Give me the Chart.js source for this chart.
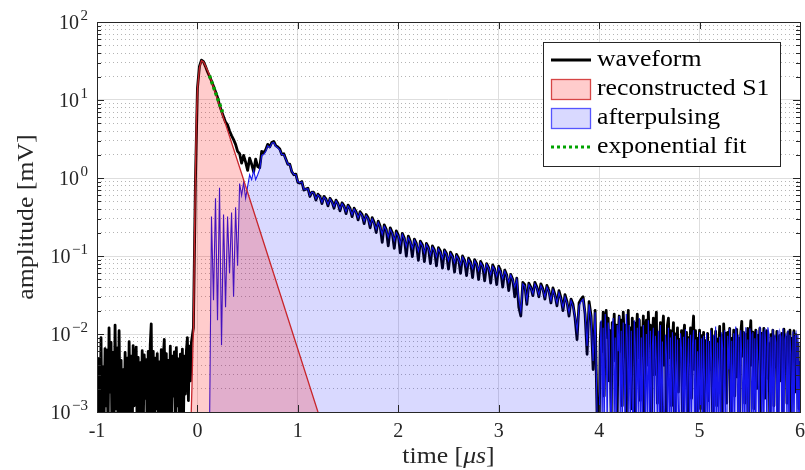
<!DOCTYPE html>
<html>
<head>
<meta charset="utf-8">
<script src="https://cdn.jsdelivr.net/npm/chart.js@4/dist/chart.umd.min.js"></script>
<style>
  html, body { margin: 0; padding: 0; background: #fff; }
  canvas { display: block; }
</style>
</head>
<body>
<canvas id="pulse" width="805" height="470"></canvas>
<script>
'use strict';

// waveform in mV. Baseline stretches are kept at 10 ns, the pulse itself at 20 ns.
const PRE_START = -1, PRE_STEP = 0.01;
const preTriggerAmp = [
  0.0026, 0.0006, 0.0048, 0.0009, 0.0090, 0.0005, 0.0038, 0.0007, 0.0065, 0.0012,  // -1.00
  0.0062, 0.0005, 0.0120, 0.0018, 0.0078, 0.0004, 0.0058, 0.0008, 0.0130, 0.0011,  // -0.90
  0.0066, 0.0005, 0.0110, 0.0009, 0.0046, 0.0004, 0.0035, 0.0007, 0.0058, 0.0006,  // -0.80
  0.0049, 0.0005, 0.0080, 0.0009, 0.0052, 0.0004, 0.0071, 0.0012, 0.0044, 0.0068,  // -0.70
  0.0006, 0.0050, 0.0004, 0.0043, 0.0008, 0.0061, 0.0005, 0.0054, 0.0015, 0.0047,  // -0.60
  0.0005, 0.0060, 0.0009, 0.0072, 0.0135, 0.0006, 0.0060, 0.0004, 0.0049, 0.0011,  // -0.50
  0.0056, 0.0005, 0.0044, 0.0008, 0.0063, 0.0004, 0.0050, 0.0085, 0.0009, 0.0056,  // -0.40
  0.0005, 0.0046, 0.0010, 0.0070, 0.0006, 0.0052, 0.0016, 0.0059, 0.0005, 0.0067,  // -0.30
  0.0012, 0.0048, 0.0004, 0.0055, 0.0009, 0.0064, 0.0006, 0.0052, 0.0017, 0.0061,  // -0.20
  0.0090, 0.0014, 0.0070, 0.0025, 0.0078                                            // -0.10
];

const PULSE_START = -0.04, PULSE_STEP = 0.02;
const pulseAmp = [
  0.012, 0.9,                                                                       // -0.04
  14, 27, 32.5, 31, 27, 23, 20.2, 17.5, 15, 12.8,                                   // 0.00
  10.8, 8.6, 7.2, 6.1, 5.2, 4.8, 4.0, 3.5, 3.1, 2.7,                                // 0.20
  2.2, 2.05, 1.55, 1.95, 1.6, 1.25, 1.8, 1.5, 1.2, 1.75,                            // 0.40
  1.4, 1.35, 2.2, 2.1, 2.3, 2.7, 2.5, 2.85, 2.95, 2.6,                              // 0.60
  2.5, 2.35, 2.0, 2.05, 1.75, 1.5, 1.5, 1.2, 1.1, 1.12,                             // 0.80
  0.88, 0.86, 0.9, 0.7, 0.72, 0.74, 0.58, 0.66, 0.65, 0.52,                         // 1.00
  0.62, 0.58, 0.47, 0.58, 0.54, 0.44, 0.55, 0.5, 0.41, 0.52,                        // 1.20
  0.47, 0.38, 0.48, 0.44, 0.35, 0.45, 0.41, 0.32, 0.41, 0.37,                       // 1.40
  0.29, 0.37, 0.34, 0.26, 0.34, 0.31, 0.23, 0.31, 0.27, 0.2,                        // 1.60
  0.28, 0.24, 0.15, 0.25, 0.22, 0.135, 0.23, 0.2, 0.125, 0.21,                      // 1.80
  0.185, 0.11, 0.195, 0.17, 0.1, 0.18, 0.155, 0.098, 0.165, 0.145,                  // 2.00
  0.088, 0.155, 0.14, 0.085, 0.145, 0.13, 0.08, 0.135, 0.12, 0.075,                 // 2.20
  0.128, 0.115, 0.07, 0.12, 0.108, 0.068, 0.112, 0.1, 0.062, 0.105,                 // 2.40
  0.094, 0.06, 0.1, 0.088, 0.056, 0.094, 0.084, 0.053, 0.09, 0.08,                  // 2.60
  0.05, 0.085, 0.076, 0.048, 0.08, 0.071, 0.045, 0.077, 0.068, 0.043,               // 2.80
  0.074, 0.064, 0.04, 0.066, 0.057, 0.036, 0.058, 0.05, 0.03, 0.052,                // 3.00
  0.022, 0.017, 0.046, 0.043, 0.024, 0.045, 0.04, 0.031, 0.046, 0.04,               // 3.20
  0.03, 0.044, 0.038, 0.028, 0.042, 0.036, 0.025, 0.039, 0.032, 0.023,              // 3.40
  0.036, 0.029, 0.02, 0.032, 0.026, 0.017, 0.028, 0.024, 0.016, 0.0085,             // 3.60
  0.025, 0.028, 0.03, 0.018, 0.0055, 0.026, 0.017, 0.0035, 0.02, 0.0008             // 3.80
];

const TAIL_START = 4.0, TAIL_STEP = 0.01;
const tailNoiseAmp = [
  0.0005, 0.008, 0.014, 0.006, 0.019, 0.0016, 0.012, 0.02, 0.009, 0.016,            // 4.00
  0.0025, 0.011, 0.0008, 0.014, 0.007, 0.018, 0.0045, 0.013, 0.0009, 0.01,          // 4.10
  0.017, 0.006, 0.015, 0.0012, 0.019, 0.009, 0.013, 0.0006, 0.011, 0.02,            // 4.20
  0.0035, 0.012, 0.0011, 0.016, 0.008, 0.014, 0.0007, 0.01, 0.018, 0.005,           // 4.30
  0.015, 0.0014, 0.012, 0.007, 0.017, 0.0009, 0.011, 0.015, 0.004, 0.019,           // 4.40
  0.008, 0.013, 0.0006, 0.009, 0.016, 0.003, 0.012, 0.019, 0.0013, 0.01,            // 4.50
  0.006, 0.014, 0.0008, 0.011, 0.017, 0.004, 0.009, 0.0007, 0.013, 0.016,           // 4.60
  0.005, 0.011, 0.0012, 0.008, 0.014, 0.0006, 0.01, 0.006, 0.012, 0.0018,           // 4.70
  0.0085, 0.0045, 0.011, 0.0009, 0.0092, 0.013, 0.003, 0.0105, 0.0007, 0.009,       // 4.80
  0.0055, 0.012, 0.0015, 0.0098, 0.017, 0.0035, 0.011, 0.0008, 0.0088, 0.0065,      // 4.90
  0.0112, 0.0011, 0.0095, 0.005, 0.0105, 0.0006, 0.0082, 0.0058, 0.0102, 0.0014,    // 5.00
  0.0078, 0.0035, 0.0115, 0.0007, 0.009, 0.0045, 0.0108, 0.0012, 0.0085, 0.006,     // 5.10
  0.0125, 0.0022, 0.0095, 0.0008, 0.0135, 0.0065, 0.0102, 0.0013, 0.0105, 0.0075,   // 5.20
  0.0118, 0.0006, 0.0088, 0.005, 0.0112, 0.0016, 0.0095, 0.0115, 0.0028, 0.0088,    // 5.30
  0.0009, 0.0102, 0.0145, 0.0052, 0.0104, 0.0013, 0.0098, 0.0062, 0.0118, 0.0007,   // 5.40
  0.0092, 0.0148, 0.004, 0.0106, 0.0011, 0.0085, 0.0112, 0.002, 0.0096, 0.0055,     // 5.50
  0.0118, 0.0009, 0.0102, 0.0048, 0.0118, 0.0015, 0.0088, 0.011, 0.0027, 0.0075,    // 5.60
  0.0006, 0.0098, 0.0062, 0.0112, 0.0012, 0.0092, 0.0038, 0.0108, 0.0008, 0.0085,   // 5.70
  0.0096, 0.0025, 0.0102, 0.0007, 0.0115, 0.0058, 0.0092, 0.0013, 0.0105, 0.0045,   // 5.80
  0.0112, 0.0009, 0.0088, 0.0066, 0.011, 0.0018, 0.0098, 0.0052, 0.0075, 0.0011,    // 5.90
  0.0045                                                                            // 6.00
];

// afterpulsing part of the trace, starts at 0.12 us
const AFTER_START = 0.12, AFTER_STEP = 0.02;
const afterPulseAmp = [
  0.0005, 0.32, 0.027, 0.55,                                                        // 0.12
  0.015, 0.75, 0.0072, 0.34, 0.022, 0.32, 0.06, 0.36, 0.03, 0.42,                   // 0.20
  0.075, 0.85, 0.6, 0.88, 0.55, 0.78, 1.1, 0.95, 1.25, 0.95,                        // 0.40
  1.1, 1.3, 1.95, 2.0, 2.2, 2.6, 2.45, 2.8, 2.85, 2.55,                             // 0.60
  2.45, 2.3, 2.0, 2.0, 1.75, 1.52, 1.48, 1.22, 1.12, 1.1,                           // 0.80
  0.9, 0.87, 0.89, 0.72, 0.72, 0.73, 0.6, 0.66, 0.64, 0.54,                         // 1.00
  0.61, 0.57, 0.49, 0.57, 0.53, 0.46, 0.54, 0.49, 0.43, 0.51,                       // 1.20
  0.46, 0.4, 0.47, 0.43, 0.37, 0.44, 0.4, 0.34, 0.4, 0.36,                          // 1.40
  0.31, 0.36, 0.33, 0.28, 0.33, 0.3, 0.25, 0.3, 0.26, 0.22,                         // 1.60
  0.27, 0.235, 0.19, 0.24, 0.215, 0.175, 0.22, 0.195, 0.158, 0.2,                   // 1.80
  0.18, 0.142, 0.19, 0.165, 0.132, 0.172, 0.152, 0.125, 0.16, 0.142,                // 2.00
  0.115, 0.15, 0.135, 0.11, 0.14, 0.126, 0.103, 0.13, 0.117, 0.097,                 // 2.20
  0.123, 0.111, 0.092, 0.116, 0.105, 0.087, 0.108, 0.097, 0.082, 0.101,             // 2.40
  0.091, 0.077, 0.097, 0.086, 0.073, 0.09, 0.081, 0.069, 0.087, 0.078,              // 2.60
  0.065, 0.082, 0.074, 0.062, 0.078, 0.069, 0.058, 0.074, 0.066, 0.055,             // 2.80
  0.071, 0.062, 0.051, 0.064, 0.056, 0.046, 0.057, 0.049, 0.04, 0.05,               // 3.00
  0.028, 0.02, 0.044, 0.041, 0.027, 0.043, 0.039, 0.033, 0.044, 0.039,              // 3.20
  0.032, 0.042, 0.037, 0.03, 0.04, 0.035, 0.027, 0.037, 0.031, 0.025,               // 3.40
  0.034, 0.028, 0.022, 0.03, 0.025, 0.019, 0.027, 0.023, 0.017, 0.011,              // 3.60
  0.023, 0.026, 0.028, 0.019, 0.007, 0.024, 0.016, 0.0045, 0.019, 0.0009            // 3.80
];

const AFTER_TAIL_START = 4.0, AFTER_TAIL_STEP = 0.01;
const afterNoiseAmp = [
  0.0004, 0.006, 0.015, 0.0008, 0.012, 0.0005, 0.018, 0.009, 0.0006, 0.014,         // 4.00
  0.011, 0.0015, 0.0005, 0.012, 0.016, 0.0007, 0.009, 0.0004, 0.013, 0.006,         // 4.10
  0.017, 0.0008, 0.011, 0.0005, 0.014, 0.0035, 0.0006, 0.018, 0.009, 0.0009,        // 4.20
  0.013, 0.0005, 0.011, 0.0015, 0.0004, 0.015, 0.007, 0.0006, 0.012, 0.0009,        // 4.30
  0.016, 0.0005, 0.009, 0.0004, 0.013, 0.004, 0.0007, 0.01, 0.0005, 0.015,          // 4.40
  0.0008, 0.011, 0.0004, 0.007, 0.012, 0.0006, 0.0095, 0.0045, 0.0005, 0.011,       // 4.50
  0.0007, 0.013, 0.0005, 0.008, 0.0012, 0.0004, 0.0098, 0.0055, 0.0006, 0.012,      // 4.60
  0.0005, 0.009, 0.0004, 0.0105, 0.003, 0.0006, 0.0095, 0.0004, 0.0085, 0.0011,     // 4.70
  0.0005, 0.0102, 0.0065, 0.0004, 0.0092, 0.0007, 0.0115, 0.0005, 0.0035, 0.0088,   // 4.80
  0.0004, 0.0098, 0.0006, 0.0075, 0.0112, 0.0005, 0.0085, 0.0004, 0.006, 0.0008,    // 4.90
  0.0105, 0.0005, 0.0088, 0.0004, 0.0095, 0.0025, 0.0006, 0.0102, 0.0004, 0.0082,   // 5.00
  0.0007, 0.0112, 0.0045, 0.0005, 0.0098, 0.0004, 0.0125, 0.0006, 0.0078, 0.0005,   // 5.10
  0.0092, 0.0004, 0.0105, 0.0065, 0.0005, 0.0112, 0.0008, 0.0004, 0.0095, 0.0035,   // 5.20
  0.0118, 0.0005, 0.0082, 0.0004, 0.0102, 0.0006, 0.0125, 0.0088, 0.0004, 0.0098,   // 5.30
  0.0005, 0.0112, 0.0055, 0.0006, 0.0108, 0.0004, 0.0122, 0.0009, 0.0085, 0.0005,   // 5.40
  0.0118, 0.0098, 0.0004, 0.0105, 0.0006, 0.0088, 0.0004, 0.0112, 0.0045, 0.0005,   // 5.50
  0.0125, 0.0095, 0.0006, 0.0108, 0.0004, 0.0118, 0.0068, 0.0005, 0.0122, 0.0102,   // 5.60
  0.0004, 0.0092, 0.0006, 0.0115, 0.0005, 0.0098, 0.0078, 0.0004, 0.0112, 0.0006,   // 5.70
  0.0105, 0.0092, 0.0004, 0.0118, 0.0005, 0.0085, 0.0102, 0.0006, 0.0112, 0.0004,   // 5.80
  0.0098, 0.0055, 0.0005, 0.0108, 0.0004, 0.0092, 0.0102, 0.0006, 0.0098, 0.0004,   // 5.90
  0.0045                                                                            // 6.00
];

// reconstructed S1 pulse (us, mV)
const s1Time = [-0.07, -0.055, -0.04, -0.03, -0.02, -0.01, 0.0, 0.02, 0.04, 0.06, 0.08, 0.10, 0.12, 0.20, 0.43, 1.20, 1.22];
const s1Amp  = [0.0004, 0.002, 0.012, 0.15, 1.2, 6, 14, 26, 32, 31, 27.5, 24, 21, 10.2, 1.25, 0.001, 0.0008];

// exponential fit over the S1 tail
const fitTime = [0.12, 0.25];
const fitAmp  = [20.5, 7.0];

const xTicks = [-1, 0, 1, 2, 3, 4, 5, 6];
const yDecades = [1e-3, 1e-2, 1e-1, 1, 10, 100];
const yMinorSteps = [2, 3, 4, 5, 6, 7, 8, 9];

const SERIF = "'Liberation Serif', 'DejaVu Serif', serif";
const INK = '#262626';
const WIDE = 1.12;   // word labels are set a little wider than the stock serif

const sampled = (t0, step, amps) => amps.map((v, i) => ({ x: +(t0 + i * step).toFixed(3), y: v }));
const paired = (ts, vs) => ts.map((t, i) => ({ x: t, y: vs[i] }));

const waveform = [
  ...sampled(PRE_START, PRE_STEP, preTriggerAmp),
  ...sampled(PULSE_START, PULSE_STEP, pulseAmp),
  ...sampled(TAIL_START, TAIL_STEP, tailNoiseAmp)
];
const afterpulsing = [
  ...sampled(AFTER_START, AFTER_STEP, afterPulseAmp),
  ...sampled(AFTER_TAIL_START, AFTER_TAIL_STEP, afterNoiseAmp)
];

const yTickList = [];
yDecades.forEach((d, i) => {
  yTickList.push({ value: d, major: true });
  if (i < yDecades.length - 1) yMinorSteps.forEach(m => yTickList.push({ value: +(m * d).toPrecision(3), major: false }));
});

function wideText(ctx, text, x, y, align) {
  ctx.save();
  ctx.translate(x, y);
  ctx.scale(WIDE, 1);
  ctx.textAlign = align;
  ctx.fillText(text, 0, 0);
  ctx.restore();
}

// axes box, inward ticks, decade labels, titles and legend
const frame = {
  id: 'frame',
  afterDraw(chart) {
    const { ctx, chartArea: a, scales: { x, y } } = chart;
    ctx.save();

    ctx.strokeStyle = INK;
    ctx.lineWidth = 1;
    ctx.beginPath();
    y.ticks.forEach(t => {
      const py = Math.round(y.getPixelForValue(t.value)) + 0.5;
      const len = t.major ? 7 : 4;
      ctx.moveTo(a.left, py); ctx.lineTo(a.left + len, py);
      ctx.moveTo(a.right, py); ctx.lineTo(a.right - len, py);
    });
    x.ticks.forEach(t => {
      const px = Math.round(x.getPixelForValue(t.value)) + 0.5;
      ctx.moveTo(px, a.bottom); ctx.lineTo(px, a.bottom - 7);
      ctx.moveTo(px, a.top); ctx.lineTo(px, a.top + 7);
    });
    ctx.stroke();
    ctx.strokeRect(Math.round(a.left) + 0.5, Math.round(a.top) + 0.5,
      Math.round(a.right - a.left), Math.round(a.bottom - a.top));

    // 10^n labels
    ctx.fillStyle = INK;
    ctx.textBaseline = 'alphabetic';
    y.ticks.filter(t => t.major).forEach(t => {
      const py = y.getPixelForValue(t.value);
      const e = Math.round(Math.log10(t.value));
      const sup = e < 0 ? '\u2212' + (-e) : String(e);
      ctx.font = '15px ' + SERIF;
      const sw = ctx.measureText(sup).width;
      ctx.textAlign = 'left';
      ctx.fillText(sup, 88 - sw, py - 2);
      ctx.font = '20px ' + SERIF;
      ctx.textAlign = 'right';
      ctx.fillText('10', 88 - sw - 1.5, py + 7);
    });

    // axis titles
    ctx.font = '23px ' + SERIF;
    ctx.textBaseline = 'middle';
    ctx.save();
    ctx.translate(27, (a.top + a.bottom) / 2);
    ctx.rotate(-Math.PI / 2);
    wideText(ctx, 'amplitude [mV]', 0, 0, 'center');
    ctx.restore();

    const parts = [['time [', 'normal'], ['\u03bcs', 'italic'], [']', 'normal']];
    let total = 0;
    parts.forEach(p => { ctx.font = p[1] + ' 23px ' + SERIF; p.push(ctx.measureText(p[0]).width * WIDE); total += p[2]; });
    let cx = (a.left + a.right) / 2 - total / 2;
    parts.forEach(p => { ctx.font = p[1] + ' 23px ' + SERIF; wideText(ctx, p[0], cx, 457, 'left'); cx += p[2]; });

    // legend
    const lx = 543, ly = 42, lw = 237, lh = 124;
    ctx.fillStyle = '#fff';
    ctx.fillRect(lx, ly, lw, lh);
    ctx.strokeStyle = INK;
    ctx.lineWidth = 1;
    ctx.strokeRect(lx + 0.5, ly + 0.5, lw, lh);

    const rows = [60, 89, 118, 147];
    chart.data.datasets.forEach((d, i) => {
      const ry = rows[i];
      ctx.save();
      if (d.fill) {
        ctx.fillStyle = d.backgroundColor;
        ctx.fillRect(551, ry - 10, 40, 21);
        ctx.strokeStyle = d.legendEdge;
        ctx.lineWidth = 1.3;
        ctx.strokeRect(551.5, ry - 9.5, 39, 20);
      } else {
        ctx.strokeStyle = d.borderColor;
        ctx.lineWidth = Math.min(d.borderWidth, 3);
        ctx.setLineDash(d.borderDash || []);
        ctx.beginPath();
        ctx.moveTo(551, ry); ctx.lineTo(591, ry);
        ctx.stroke();
      }
      ctx.restore();
      ctx.fillStyle = '#000';
      ctx.font = '23px ' + SERIF;
      ctx.textBaseline = 'middle';
      wideText(ctx, d.label, 597, ry, 'left');
    });

    ctx.restore();
  }
};

new Chart(document.getElementById('pulse'), {
  type: 'line',
  data: {
    datasets: [
      {
        label: 'waveform',
        data: waveform,
        borderColor: '#000',
        borderWidth: 2.8,
        borderJoinStyle: 'round',
        pointRadius: 0,
        fill: false,
        clip: 0,
        order: 3
      },
      {
        label: 'reconstructed S1',
        data: paired(s1Time, s1Amp),
        borderColor: '#c8262c',
        legendEdge: '#d64545',
        borderWidth: 1.3,
        backgroundColor: 'rgba(255,0,0,0.2)',
        pointRadius: 0,
        fill: 'start',
        clip: 0,
        order: 1
      },
      {
        label: 'afterpulsing',
        data: afterpulsing,
        borderColor: '#1616ee',
        legendEdge: '#5555ff',
        borderWidth: 1.1,
        backgroundColor: 'rgba(0,0,255,0.15)',
        pointRadius: 0,
        fill: 'start',
        clip: 0,
        order: 2
      },
      {
        label: 'exponential fit',
        data: paired(fitTime, fitAmp),
        borderColor: '#00a300',
        borderWidth: 3.5,
        borderDash: [3, 3],
        pointRadius: 0,
        fill: false,
        clip: 0,
        order: 0
      }
    ]
  },
  options: {
    responsive: false,
    animation: false,
    devicePixelRatio: 1,
    layout: { padding: { left: 0, right: 5, top: 22, bottom: 0 } },
    plugins: { legend: { display: false }, tooltip: { enabled: false } },
    scales: {
      x: {
        type: 'linear',
        min: -1,
        max: 6,
        afterBuildTicks: s => { s.ticks = xTicks.map(v => ({ value: v })); },
        afterFit: s => { s.height = 58; s.paddingLeft = 0; s.paddingRight = 0; },
        grid: { color: '#dedede', lineWidth: 1, drawTicks: false },
        border: { display: false },
        ticks: { font: { family: SERIF, size: 20 }, color: INK, padding: 8, maxRotation: 0, autoSkip: false }
      },
      y: {
        type: 'logarithmic',
        min: 1e-3,
        max: 100,
        afterBuildTicks: s => { s.ticks = yTickList.map(t => ({ value: t.value, major: t.major })); },
        afterFit: s => { s.width = 97; s.paddingTop = 0; s.paddingBottom = 0; },
        grid: {
          color: c => (c.tick && c.tick.major) ? '#dedede' : '#b4b4b4',
          lineWidth: 1,
          drawTicks: false
        },
        border: { display: false, dash: c => (c.tick && !c.tick.major) ? [1, 3] : [] },
        ticks: { display: false, autoSkip: false }
      }
    }
  },
  plugins: [frame]
});
</script>
</body>
</html>
